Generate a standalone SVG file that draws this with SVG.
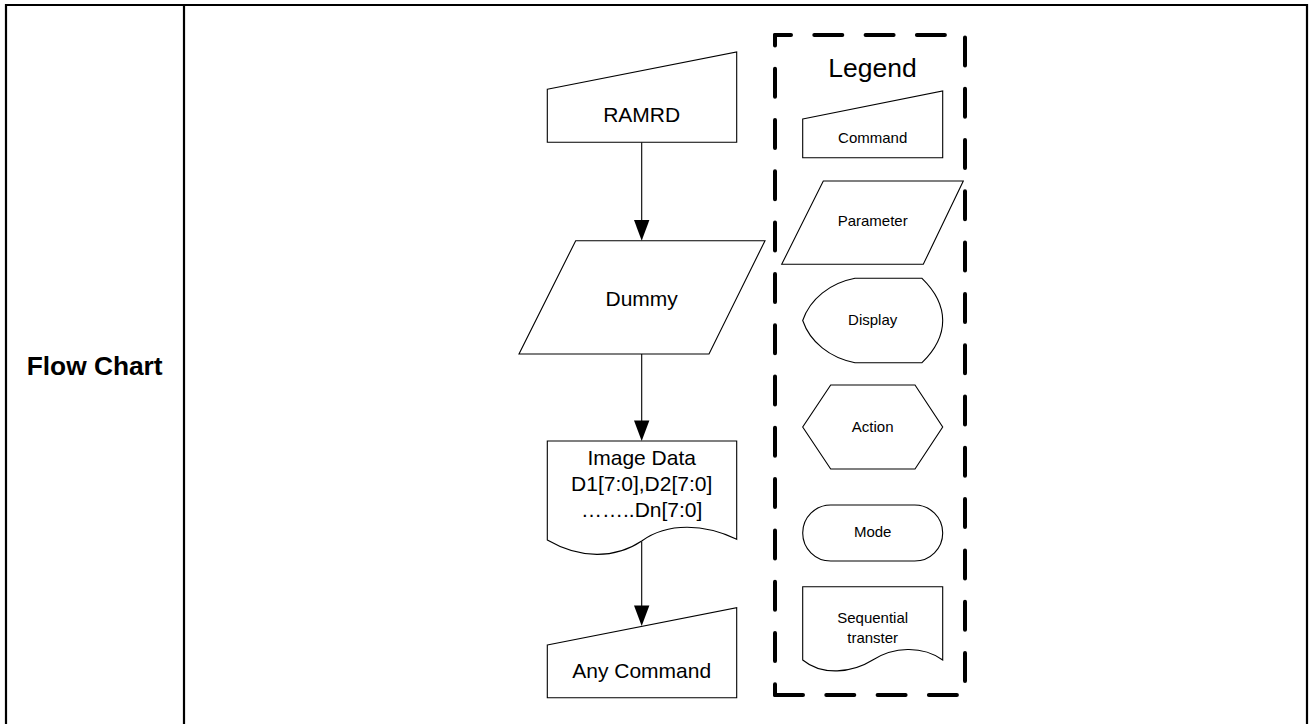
<svg xmlns="http://www.w3.org/2000/svg" width="1309" height="724" viewBox="0 0 1309 724">
<style>
.shape{fill:#fff;stroke:#000;stroke-width:1.1}
.t{font-family:"Liberation Sans",Arial,sans-serif;fill:#000;text-anchor:middle}
.big{font-size:21px}
.small{font-size:15px}
.dash{fill:none;stroke:#000;stroke-width:4;stroke-linecap:round;stroke-dasharray:28 23.3}
.conn{stroke:#000;stroke-width:1.1;fill:none}
.head{fill:#000}
</style>
<rect width="1309" height="724" fill="#fff"/>
<g id="table">
<path d="M6,740 V5 H1307 V740" fill="none" stroke="#000" stroke-width="2.2"/>
<line x1="184" y1="5" x2="184" y2="740" stroke="#000" stroke-width="2.2"/>
<text class="t" x="94.7" y="375" font-size="26.3" font-weight="bold">Flow Chart</text>
</g>
<g id="connectors">
<line class="conn" x1="641.7" y1="142.3" x2="641.7" y2="221"/>
<path class="head" d="M634,220 H649.4 L641.7,240.7 Z"/>
<line class="conn" x1="641.7" y1="354" x2="641.7" y2="421"/>
<path class="head" d="M634,420.5 H649.4 L641.7,441 Z"/>
<line class="conn" x1="641.7" y1="541.5" x2="641.7" y2="606"/>
<path class="head" d="M634,605.5 H649.4 L641.7,626 Z"/>
</g>
<g id="node-ramrd">
<path class="shape" d="M547.3,89.3 L736.7,52 V142.3 H547.3 Z"/>
<text class="t big" x="641.7" y="121.7">RAMRD</text>
</g>
<g id="node-dummy">
<path class="shape" d="M575.7,240.7 H765 L709,354 H519 Z"/>
<text class="t big" x="641.7" y="306">Dummy</text>
</g>
<g id="node-image-data">
<path class="shape" d="M547.3,441 H736.7 V539.3 C705,524 668,522 641.7,541 C615,559 580,559 547.3,540 Z"/>
<text class="t big" x="641.7" y="465">Image Data</text>
<text class="t big" x="641.7" y="491">D1[7:0],D2[7:0]</text>
<text class="t big" x="641.7" y="517.3">……..Dn[7:0]</text>
</g>
<g id="node-any-command">
<path class="shape" d="M547.3,645 L736.7,607.7 V697.7 H547.3 Z"/>
<text class="t big" x="641.7" y="678.3">Any Command</text>
</g>
<g id="legend">
<line class="dash" x1="775" y1="35" x2="965" y2="35" stroke-dashoffset="12"/>
<line class="dash" x1="775" y1="35" x2="775" y2="695" stroke-dashoffset="17.6"/>
<line class="dash" x1="775" y1="695" x2="965" y2="695" stroke-dasharray="28 22.5"/>
<line class="dash" x1="965" y1="35" x2="965" y2="695" stroke-dashoffset="48.9"/>
<text class="t" x="872.5" y="76.7" font-size="26.5">Legend</text>
</g>
<g id="legend-command">
<path class="shape" d="M802.7,119 L942.7,91 V157.7 H802.7 Z"/>
<text class="t small" x="872.7" y="143.3">Command</text>
</g>
<g id="legend-parameter">
<path class="shape" d="M823.3,181 H963.3 L923.3,264.3 H781.7 Z"/>
<text class="t small" x="872.7" y="225.7">Parameter</text>
</g>
<g id="legend-display">
<path class="shape" d="M855,278.3 H922 C934,290 942.7,305 942.7,320.5 C942.7,336 934,351 922,362.7 H855 C830,358 810,342 802.7,320.5 C810,299 830,283 855,278.3 Z"/>
<text class="t small" x="872.7" y="325">Display</text>
</g>
<g id="legend-action">
<path class="shape" d="M830.7,385 H915 L942.7,427 L915,469 H830.7 L802.7,427 Z"/>
<text class="t small" x="872.7" y="431.7">Action</text>
</g>
<g id="legend-mode">
<rect class="shape" x="802.7" y="505" width="140" height="56" rx="28" ry="28"/>
<text class="t small" x="872.7" y="537.3">Mode</text>
</g>
<g id="legend-sequential">
<path class="shape" d="M802.7,586.7 H942.7 V660 C922,645 893,647 872.7,660 C852,673 822,676 802.7,660 Z"/>
<text class="t small" x="872.7" y="622.7">Sequential</text>
<text class="t small" x="872.7" y="643.3">transter</text>
</g>
</svg>
